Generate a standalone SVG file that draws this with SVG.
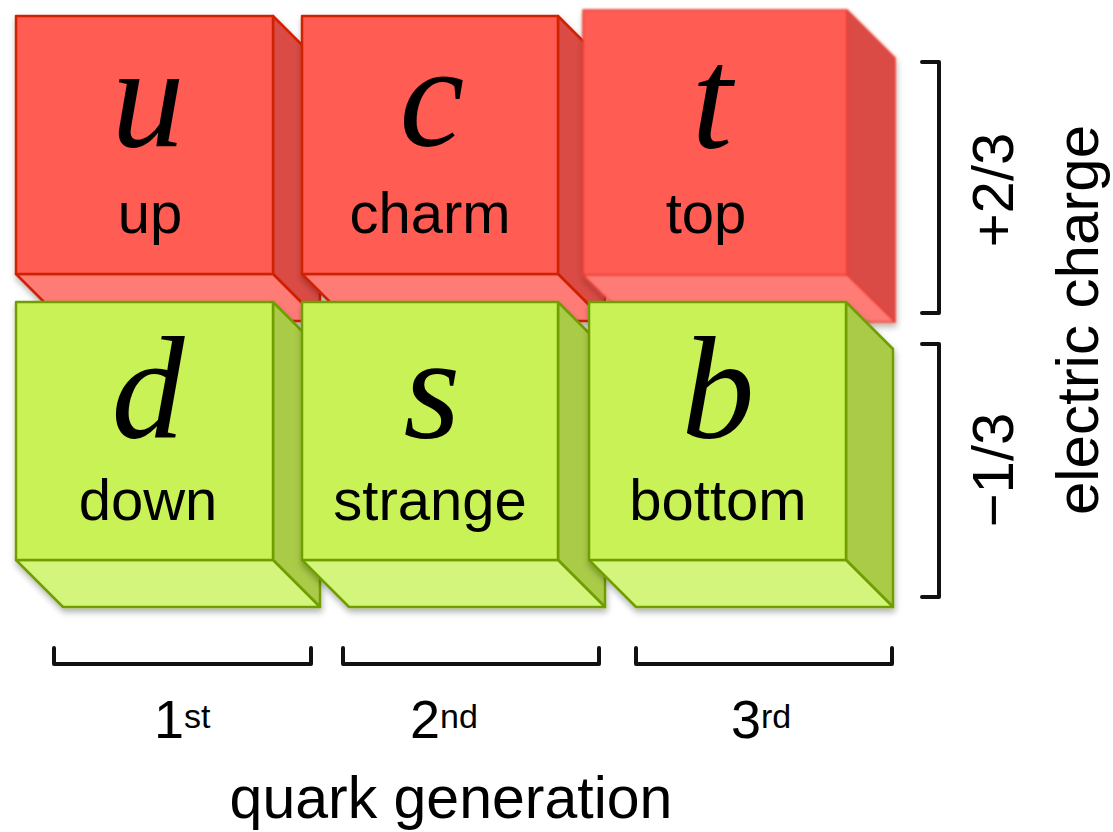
<svg xmlns="http://www.w3.org/2000/svg" width="1113" height="832" viewBox="0 0 1113 832">
<defs>
<filter id="sh" x="-10%" y="-10%" width="125%" height="125%">
<feDropShadow dx="1" dy="4" stdDeviation="3" flood-color="#000" flood-opacity="0.3"/>
</filter>
<filter id="bl" x="-5%" y="-5%" width="110%" height="110%">
<feGaussianBlur stdDeviation="0.9"/>
</filter>
<style>
.r .f{fill:#FF5B52}
.r .s{fill:#DA4B45}
.r .b{fill:#FF7B76}
.r polygon,.r rect{stroke:#D02000;stroke-width:2.5;stroke-linejoin:round}
.rt polygon,.rt rect{stroke:#E8392F;stroke-width:1.5}
.g .f{fill:#C8F256}
.g .s{fill:#A9CB46}
.g .b{fill:#D4F57B}
.g polygon,.g rect{stroke:#6F9E00;stroke-width:2.5;stroke-linejoin:round}
.sym{font-family:"Liberation Serif","DejaVu Serif",serif;font-style:italic;font-size:146px;text-anchor:middle;fill:#000}
.lbl{font-family:"Liberation Sans",Arial,sans-serif;font-size:58px;text-anchor:middle;fill:#000}
.ax{font-family:"Liberation Sans",Arial,sans-serif;fill:#000}
.br{fill:none;stroke:#111;stroke-width:4;stroke-linejoin:round;stroke-linecap:round}
</style>
</defs>
<rect width="1113" height="832" fill="#fff"/>

<g id="cube-u" class="r" filter="url(#sh)">
<polygon class="s" points="273,16 320,63 320,321 273,274"/>
<polygon class="b" points="16,274 273,274 320,321 63,321"/>
<rect class="f" x="16" y="16" width="257" height="258"/>
<text class="sym" x="148" y="146">u</text>
<text class="lbl" x="150" y="233">up</text>
</g>
<g id="cube-c" class="r" filter="url(#sh)">
<polygon class="s" points="558,16 605,63 605,321 558,274"/>
<polygon class="b" points="302,274 558,274 605,321 349,321"/>
<rect class="f" x="302" y="16" width="256" height="258"/>
<text class="sym" x="432" y="146">c</text>
<text class="lbl" x="430" y="233">charm</text>
</g>
<g id="cube-t" class="r rt">
<g filter="url(#sh)">
<g filter="url(#bl)">
<polygon class="s" points="847,10 895,58 895,322 847,275"/>
<polygon class="b" points="583,275 847,275 895,322 631,322"/>
<rect class="f" x="583" y="10" width="264" height="265"/>
</g>
</g>
<text class="sym" x="712" y="148">t</text>
<text class="lbl" x="706" y="233">top</text>
</g>

<g id="cube-d" class="g" filter="url(#sh)">
<polygon class="s" points="273,302 320,349 320,607 273,560"/>
<polygon class="b" points="16,560 273,560 320,607 63,607"/>
<rect class="f" x="16" y="302" width="257" height="258"/>
<text class="sym" x="148" y="438">d</text>
<text class="lbl" x="148" y="520">down</text>
</g>
<g id="cube-s" class="g" filter="url(#sh)">
<polygon class="s" points="558,302 605,349 605,607 558,560"/>
<polygon class="b" points="302,560 558,560 605,607 349,607"/>
<rect class="f" x="302" y="302" width="256" height="258"/>
<text class="sym" x="432" y="438">s</text>
<text class="lbl" x="430" y="520">strange</text>
</g>
<g id="cube-b" class="g" filter="url(#sh)">
<polygon class="s" points="846,302 893,349 893,607 846,560"/>
<polygon class="b" points="589,560 846,560 893,607 636,607"/>
<rect class="f" x="589" y="302" width="257" height="258"/>
<text class="sym" x="718" y="438">b</text>
<text class="lbl" x="718" y="520">bottom</text>
</g>

<g id="connectors">
<path class="br" d="M922,62 H939 V313 H922"/>
<path class="br" d="M922,344 H939 V597 H922"/>
<path class="br" d="M54,648 V664 H311 V648"/>
<path class="br" d="M343,648 V664 H599 V648"/>
<path class="br" d="M636,648 V664 H892 V648"/>
</g>

<g id="charge-labels">
<text class="ax" font-size="58" text-anchor="middle" transform="translate(1013,190) rotate(-90)">+2/3</text>
<text class="ax" font-size="58" text-anchor="middle" transform="translate(1013,470) rotate(-90)">−1/3</text>
<text class="ax" font-size="60" text-anchor="middle" transform="translate(1098,320) rotate(-90)">electric charge</text>
</g>

<g id="generation-labels">
<text class="ax" font-size="54" x="154" y="738">1<tspan font-size="34" dy="-10">st</tspan></text>
<text class="ax" font-size="54" x="410" y="738">2<tspan font-size="34" dy="-10">nd</tspan></text>
<text class="ax" font-size="54" x="731" y="738">3<tspan font-size="34" dy="-10">rd</tspan></text>
<text class="ax" font-size="59" text-anchor="middle" x="451" y="818">quark generation</text>
</g>
</svg>
